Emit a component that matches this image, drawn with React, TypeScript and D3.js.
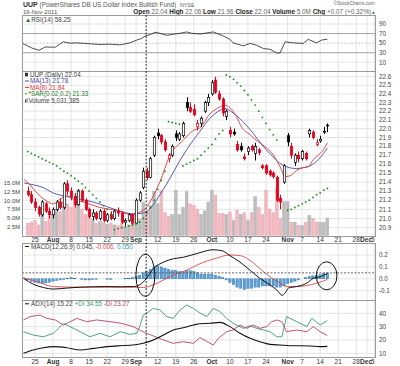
import React from "react";
import * as d3 from "d3";

const W = 400;
const H = 366;
const FONT = "'Liberation Sans', Arial, Helvetica, sans-serif";
const PL = 22;
const PR = 375;

// trading days shown on the chart, Labor Day skipped
const days = d3.timeDay
  .range(new Date(2011, 6, 21), new Date(2011, 11, 6))
  .filter((d) => d.getDay() % 6 !== 0 && +d !== +new Date(2011, 8, 5));
const fmt = d3.timeFormat("%Y-%m-%d");
const dayIndex = (s: string) => days.findIndex((d) => fmt(d) === s);

const tickDates = [
  "2011-07-25", "2011-08-01", "2011-08-08", "2011-08-15", "2011-08-22", "2011-08-29",
  "2011-09-01", "2011-09-12", "2011-09-19", "2011-09-26", "2011-10-03", "2011-10-10",
  "2011-10-17", "2011-10-24", "2011-11-01", "2011-11-07", "2011-11-14", "2011-11-21",
  "2011-11-28", "2011-12-01", "2011-12-05",
];
const tickLabels = [
  "25", "Aug", "8", "15", "22", "29", "Sep", "12", "19", "26", "Oct", "10",
  "17", "24", "Nov", "7", "14", "21", "28", "Dec", "5",
];

// daily prices Jul 21 .. Nov 16
const open = [
  21.30, 21.26, 21.18, 21.12, 21.04, 21.16, 21.08, 21.04, 21.10, 21.18, 21.12, 21.38,
  21.30, 21.24, 21.15, 21.30, 21.20, 21.10, 21.02, 21.06, 21.00, 21.08, 20.98, 21.04,
  21.00, 21.08, 21.06, 20.96, 20.98, 21.04, 20.95, 21.20, 21.34, 21.52, 21.45, 21.70,
  21.95, 21.92, 21.85, 21.66, 21.70, 21.94, 21.88, 21.92, 22.30, 22.24, 22.22, 22.02,
  22.06, 22.20, 22.30, 22.40, 22.56, 22.40, 22.34, 22.14, 21.98, 21.96, 21.82, 21.80,
  21.68, 21.74, 21.80, 21.72, 21.76, 21.58, 21.58, 21.52, 21.50, 21.45, 21.22, 21.40,
  21.92, 21.80, 21.62, 21.70, 21.66, 21.72, 21.94, 21.96, 21.82, 21.86, 21.96, 22.04,
];
const high = [
  21.35, 21.30, 21.22, 21.14, 21.20, 21.18, 21.12, 21.12, 21.20, 21.22, 21.40, 21.42,
  21.34, 21.28, 21.32, 21.32, 21.22, 21.12, 21.10, 21.08, 21.10, 21.10, 21.06, 21.08,
  21.10, 21.12, 21.08, 21.00, 21.06, 21.06, 21.22, 21.30, 21.56, 21.56, 21.68, 21.92,
  22.00, 21.94, 21.88, 21.72, 21.82, 21.98, 21.96, 22.08, 22.36, 22.30, 22.28, 22.10,
  22.14, 22.32, 22.40, 22.56, 22.60, 22.44, 22.36, 22.22, 22.02, 22.00, 21.86, 21.84,
  21.72, 21.80, 21.82, 21.84, 21.78, 21.60, 21.60, 21.54, 21.52, 21.47, 21.26, 21.60,
  21.95, 21.84, 21.72, 21.74, 21.76, 21.74, 22.00, 21.98, 21.88, 21.92, 22.02, 22.06,
];
const low = [
  21.24, 21.16, 21.08, 21.02, 21.02, 21.06, 21.00, 21.00, 21.08, 21.10, 21.10, 21.26,
  21.20, 21.12, 21.14, 21.18, 21.08, 21.00, 20.98, 20.98, 20.98, 20.96, 20.96, 20.98,
  20.98, 21.02, 20.94, 20.92, 20.96, 20.92, 20.94, 21.18, 21.32, 21.42, 21.44, 21.68,
  21.88, 21.82, 21.74, 21.62, 21.68, 21.86, 21.86, 21.90, 22.20, 22.18, 22.14, 21.98,
  22.02, 22.18, 22.26, 22.38, 22.40, 22.32, 22.14, 22.10, 21.90, 21.92, 21.74, 21.74,
  21.64, 21.70, 21.74, 21.64, 21.70, 21.54, 21.48, 21.46, 21.44, 21.18, 21.10, 21.38,
  21.80, 21.66, 21.58, 21.62, 21.64, 21.64, 21.90, 21.88, 21.80, 21.84, 21.94, 21.96,
];
const close = [
  21.26, 21.18, 21.12, 21.05, 21.18, 21.08, 21.04, 21.10, 21.18, 21.12, 21.38, 21.30,
  21.24, 21.15, 21.30, 21.20, 21.10, 21.02, 21.06, 21.00, 21.08, 20.98, 21.04, 21.00,
  21.08, 21.06, 20.96, 20.98, 21.04, 20.95, 21.20, 21.28, 21.52, 21.45, 21.66, 21.90,
  21.92, 21.85, 21.76, 21.70, 21.80, 21.90, 21.94, 22.06, 22.24, 22.20, 22.16, 22.06,
  22.12, 22.30, 22.36, 22.53, 22.42, 22.34, 22.18, 22.20, 21.94, 21.94, 21.76, 21.76,
  21.66, 21.78, 21.76, 21.80, 21.73, 21.56, 21.50, 21.48, 21.46, 21.20, 21.18, 21.58,
  21.85, 21.70, 21.70, 21.66, 21.74, 21.66, 21.98, 21.90, 21.84, 21.88, 21.97, 22.04,
];
// millions of shares
const volume = [
  3.5, 3.8, 4.2, 3.0, 6.5, 4.0, 5.5, 6.0, 7.5, 6.8, 9.5, 9.0,
  8.0, 10.0, 13.0, 7.5, 6.0, 5.5, 4.5, 3.5, 4.0, 3.8, 3.2, 3.5,
  3.0, 2.8, 3.5, 2.5, 3.0, 3.5, 6.5, 4.5, 9.5, 7.0, 8.5, 12.5,
  9.0, 12.8, 6.5, 5.5, 6.0, 12.8, 6.0, 8.0, 12.5, 9.0, 8.5, 7.5,
  6.0, 7.0, 9.5, 12.9, 11.5, 6.3, 6.3, 6.0, 6.7, 4.3, 7.2, 6.0,
  6.5, 4.3, 6.5, 11.0, 8.0, 6.0, 12.9, 7.5, 6.5, 13.4, 4.9, 9.6,
  9.6, 3.8, 3.8, 2.9, 2.9, 3.8, 5.7, 4.8, 3.8, 3.8, 3.8, 5.0,
];

// indicator lines, [trading day, value]
const ma13 = [
  [-1, 21.39], [1.5, 21.37], [4.2, 21.34], [7, 21.28], [10.8, 21.24], [14.5, 21.21],
  [18.1, 21.18], [21.9, 21.13], [25.6, 21.08], [29.2, 21.05], [32, 21.06], [34.8, 21.15],
  [36.6, 21.26], [38.5, 21.38], [41.3, 21.58], [44, 21.76], [47.7, 21.97], [50.5, 22.12],
  [53.3, 22.21], [54.6, 22.23], [56.9, 22.18], [59.6, 22.08], [62.4, 21.95], [65.2, 21.8],
  [67.5, 21.7], [69.8, 21.61], [71.7, 21.57], [74.5, 21.55], [76.3, 21.56], [78.2, 21.58],
  [80.5, 21.65], [83, 21.78],
];
const ma8 = [
  [-1, 21.43], [0.6, 21.37], [2.5, 21.28], [5.3, 21.19], [7.1, 21.16], [8.9, 21.21],
  [10.8, 21.25], [12.6, 21.21], [15.4, 21.18], [20, 21.12], [22.8, 21.1], [24.6, 21.09],
  [27.4, 21.05], [29.2, 21.04], [31.1, 21.07], [32.9, 21.12], [34.8, 21.25], [36.6, 21.4],
  [39.4, 21.7], [43.1, 21.87], [45.9, 21.98], [47.7, 22.01], [50.5, 22.17], [53.3, 22.25],
  [54.6, 22.27], [56, 22.24], [57.8, 22.14], [59.2, 22.02], [61.6, 21.93], [63.9, 21.85],
  [66.2, 21.78], [68.1, 21.7], [69.9, 21.57], [71.3, 21.46], [72.7, 21.47], [74.5, 21.53],
  [76.3, 21.56], [77.7, 21.57], [79.1, 21.65], [80.5, 21.7], [81.9, 21.76], [83, 21.84],
];
const sar = [
  [0, 21.74], [1, 21.72], [2, 21.7], [3, 21.68], [4, 21.66], [5, 21.64], [6, 21.62],
  [7, 21.6], [8, 21.58], [9, 21.55], [10, 21.52], [11, 21.5], [12, 21.47], [13, 21.44],
  [14, 21.41], [15, 21.38], [16, 21.34], [17, 21.3], [18, 21.26], [19, 21.22], [20, 21.18],
  [21, 21.14], [22, 21.1], [23, 21.05],
  [24, 20.88], [25, 20.89], [26, 20.9], [27, 20.91], [28, 20.92], [29, 20.93], [30, 20.94],
  [31, 20.96], [32, 21.0], [33, 21.06], [34, 21.12], [35, 21.2], [36, 21.32], [37, 21.42],
  [38, 21.52],
  [39, 22.08], [40, 22.07], [41, 22.06], [42, 22.05],
  [43, 21.58], [44, 21.6], [45, 21.62], [46, 21.64], [47, 21.66], [48, 21.7], [49, 21.74],
  [50, 21.78], [51, 21.82], [52, 21.88], [53, 21.94], [54, 21.98],
  [55, 22.62], [56, 22.6], [57, 22.57], [58, 22.53], [59, 22.49], [60, 22.44], [61, 22.39],
  [62, 22.33], [63, 22.27], [64, 22.2], [65, 22.13], [66, 22.06], [67, 21.99], [68, 21.93],
  [69, 21.87],
  [72, 21.09], [73, 21.1], [74, 21.12], [75, 21.14], [76, 21.16], [77, 21.18], [78, 21.2],
  [79, 21.23], [80, 21.26], [81, 21.28], [82, 21.31], [83, 21.33],
];
const rsi = [
  [-1.4, 49.4], [1.1, 40], [3.1, 35.1], [4.8, 42], [7.6, 41.5], [9.8, 52.8], [11.7, 50],
  [13.6, 50.6], [16.7, 49], [20, 47.2], [22.8, 47.9], [25.6, 46.4], [28.3, 50.6],
  [30.2, 56.4], [31.6, 60], [32.5, 64.9], [33.9, 67.7], [35.3, 72.8], [36.6, 70.6],
  [38.5, 66.4], [40.3, 68.5], [42.2, 70.6], [44, 73.4], [45.4, 70.6], [47.7, 69.1],
  [51.4, 73.4], [54.2, 64.9], [56, 57.9], [56.9, 50.6], [59.7, 44.3], [61.6, 49.4],
  [63.4, 45.7], [65.3, 38.7], [67.1, 37.2], [69, 29.4], [69.9, 29.4], [71.3, 52.8],
  [73.6, 50.6], [76.3, 49.4], [77.7, 57.9], [80, 50.6], [81.4, 56.4], [83, 58.25],
];
const macd = [
  [-1.2, 0.004], [1.5, -0.045], [4.3, -0.073], [7.1, -0.086], [10.8, -0.078], [14.5, -0.07],
  [18.2, -0.067], [21.9, -0.065], [25.6, -0.067], [29.2, -0.065], [31, -0.051], [32.9, 0.004],
  [34.8, 0.086], [37.6, 0.14], [40.3, 0.168], [43.1, 0.181], [47.7, 0.22], [51.3, 0.244],
  [53.8, 0.236], [56, 0.195], [58.8, 0.14], [61.6, 0.072], [64.3, 0.004], [67.1, -0.051],
  [69.4, -0.106], [70.4, -0.139], [71.3, -0.119], [72.2, -0.078], [74.5, -0.065],
  [77.3, -0.037], [79.1, 0.004], [81, 0.017], [83, 0.045],
];
const signal = [
  [-1.2, 0.009], [2.5, -0.024], [7.1, -0.065], [14.5, -0.071], [22.8, -0.071], [29.2, -0.071],
  [32, -0.073], [34.8, -0.051], [37.6, -0.01], [40.3, 0.031], [44, 0.072], [47.7, 0.127],
  [51.9, 0.17], [56, 0.2], [58.8, 0.195], [61.6, 0.154], [64.3, 0.086], [67.1, 0.017],
  [69.9, -0.037], [71.7, -0.065], [74.5, -0.065], [77.3, -0.057], [80, -0.037], [83, -0.006],
];
const hist = [
  -0.01, -0.02, -0.03, -0.035, -0.04, -0.035, -0.03, -0.02, -0.015, -0.01, -0.005, 0.005,
  0.01, 0.005, 0, -0.005, -0.01, -0.01, -0.005, -0.005, 0, 0, -0.005, -0.005,
  0, 0, 0, 0.005, 0.005, 0.01, 0.02, 0.03, 0.05, 0.06, 0.08, 0.1, 0.11, 0.1,
  0.09, 0.08, 0.07, 0.07, 0.06, 0.06, 0.07, 0.07, 0.06, 0.05, 0.04, 0.04, 0.04,
  0.04, 0.03, 0.02, 0.01, -0.01, -0.03, -0.05, -0.07, -0.08, -0.09, -0.08, -0.08,
  -0.07, -0.07, -0.06, -0.06, -0.06, -0.06, -0.07, -0.07, -0.06, -0.04, -0.03, -0.02,
  -0.01, 0, 0.01, 0.02, 0.025, 0.03, 0.035, 0.045, 0.05,
];
const adx = [
  [-1.2, 10], [1.5, 12.5], [4.3, 14.2], [7.1, 15], [10.8, 14.2], [14.5, 12.5], [18.2, 13.7],
  [21.9, 15], [25.6, 15.7], [29.2, 16.2], [32, 17.5], [34.8, 20], [37.6, 23.7], [40.3, 27.5],
  [43.1, 29.2], [45.9, 31.2], [47.7, 32.2], [50.5, 32.5], [53.3, 33.2], [56, 30], [58.8, 25],
  [61.6, 21.2], [64.3, 18.7], [67.1, 16.7], [69.9, 16.2], [72.6, 15.7], [75.4, 15.7],
  [78.2, 15.5], [81, 15], [83, 15.22],
];
const plusDI = [
  [-1.2, 26.2], [1.5, 23.7], [4.3, 22.4], [7.1, 25], [9.9, 32.5], [11.7, 30], [14.5, 26.2],
  [17.2, 22.4], [20, 25], [22.8, 22.4], [25.6, 26.2], [28.3, 24.2], [30.2, 25], [31, 30],
  [32, 38.7], [32.9, 40], [34.8, 43.7], [36.6, 42.5], [38.5, 37.5], [40.3, 36.2], [42.2, 42.5],
  [44, 46.2], [45.9, 43.7], [47.7, 40.2], [49.6, 37.5], [51.4, 43.7], [53.3, 41.2],
  [55.1, 36.2], [56.9, 32.5], [59.7, 28.7], [61.6, 30.7], [63.4, 28.7], [65.3, 27.5],
  [67.1, 26.2], [69, 22.4], [70.4, 22.4], [71.7, 37.5], [74.5, 33.7], [77.3, 30],
  [78.7, 36.2], [81, 31.2], [83, 34.55],
];
const minusDI = [
  [-1.2, 35], [0.6, 37.5], [3.4, 38.7], [5.3, 36.2], [7.6, 35], [9.9, 31.2], [13.6, 36.2],
  [16.3, 33.7], [19.1, 35], [22.8, 33.7], [25.6, 32.7], [29.2, 30], [31, 27.5], [32.9, 25],
  [34.8, 23], [37.6, 20], [40.3, 17.5], [43.1, 18.7], [45.9, 17.5], [47.7, 21.8], [51.4, 16.2],
  [52.8, 21.2], [55.1, 26.2], [56.9, 27.5], [58.8, 31.2], [60.6, 28.7], [62.5, 31.2],
  [64.3, 28.7], [66.2, 30], [67.6, 33.7], [69, 35], [70.4, 33.7], [71.7, 26.2], [74.5, 27.5],
  [77.3, 26.2], [79.1, 30], [81, 26.2], [83, 23.27],
];

const priceTicks = d3.range(209, 227).map((v) => v / 10);
const rsiTicks = [90, 70, 50, 30, 10];
const volTicks = [2.5, 5, 7.5, 10, 12.5, 15];
const macdTicks = [0.2, 0.1, 0, -0.1];
const adxTicks = [40, 30, 20, 10];

// panels
const rsiP = { top: 15, bottom: 71 };
const priP = { top: 71, bottom: 236 };
const macdP = { top: 243, bottom: 300 };
const adxP = { top: 300, bottom: 357 };

const x = d3.scaleLinear().domain([-1.6, 96.2]).range([PL, PR]);
const yRsi = d3.scaleLinear().domain([0, 100]).range([67.1, 19.2]);
const yPrice = d3.scaleLog().domain([20.9, 22.6]).range([227.7, 76.7]);
const yVol = d3.scaleLinear().domain([0, 15]).range([235.5, 182.7]);
const yMacd = d3.scaleLinear().domain([-0.1, 0.2]).range([290.7, 255]);
const yAdx = d3.scaleLinear().domain([10, 40]).range([353.3, 313.3]);

const tickX = tickDates.map((s) => x(dayIndex(s)));

const RED = "#e2001a";
const GRID = "#e4e4e4";
const BORDER = "#9a9a9a";
const TXT = "#444";

function lineOf(pts: number[][], y: (v: number) => number, curve = d3.curveLinear) {
  return d3
    .line<number[]>()
    .x((d) => x(d[0]))
    .y((d) => y(d[1]))
    .curve(curve)(pts) as string;
}

function Panel({ p, id }: { p: { top: number; bottom: number }; id: string }) {
  return (
    <g>
      <clipPath id={id}>
        <rect x={PL} y={p.top} width={PR - PL} height={p.bottom - p.top} />
      </clipPath>
      {tickX.map((tx, i) => (
        <line key={i} x1={tx} x2={tx} y1={p.top} y2={p.bottom} stroke={GRID} strokeWidth={1} />
      ))}
    </g>
  );
}

function DateAxis({ y }: { y: number }) {
  return (
    <g fontSize={6.5} fill="#333" textAnchor="middle">
      {tickLabels.map((t, i) => {
        const isMonth = isNaN(+t);
        let tx = tickX[i];
        if (t === "Dec") tx -= 1;
        if (t === "5") tx -= 1.5;
        return (
          <text key={i} x={tx} y={y} fontWeight={isMonth ? "bold" : "normal"}>
            {t}
          </text>
        );
      })}
    </g>
  );
}

function Candles() {
  const bw = 2.4;
  return (
    <g>
      {close.map((c, i) => {
        const o = open[i];
        const prev = i > 0 ? close[i - 1] : 21.3;
        const col = c >= prev ? "#000" : RED;
        const hollow = c >= o;
        const cx = Math.round(x(i)) + 0.5;
        const yt = yPrice(Math.max(o, c));
        const yb = yPrice(Math.min(o, c));
        return (
          <g key={i}>
            <line x1={cx} x2={cx} y1={yPrice(high[i])} y2={yPrice(low[i])} stroke={col} strokeWidth={1} />
            <rect
              x={cx - bw / 2}
              y={yt}
              width={bw}
              height={Math.max(0.8, yb - yt)}
              fill={hollow ? "#fff" : col}
              stroke={col}
              strokeWidth={0.7}
            />
          </g>
        );
      })}
    </g>
  );
}

function Volume() {
  const bw = 2.8;
  return (
    <g>
      {volume.map((v, i) => {
        const prev = i > 0 ? close[i - 1] : 21.3;
        const up = close[i] >= prev;
        return (
          <rect
            key={i}
            x={x(i) - bw / 2}
            y={yVol(v)}
            width={bw}
            height={yVol(0) - yVol(v)}
            fill={up ? "#bdbdbd" : "#f2b8c0"}
            stroke={up ? "#a8a8a8" : "#e8a0aa"}
            strokeWidth={0.4}
          />
        );
      })}
    </g>
  );
}

export default function App() {
  const rightLabel = (y: number, t: string, k: string | number) => (
    <text key={k} x={PR + 4} y={y + 2.2} fontSize={6.3} fill={TXT}>
      {t}
    </text>
  );
  return (
    <div style={{ position: "fixed", left: 0, top: 0 }}>
      <svg width={W} height={H} fontFamily={FONT} style={{ display: "block" }}>
        <rect width={W} height={H} fill="#fff" />

        {/* header */}
        <text x={23} y={6.6} fontSize={7} fontWeight="bold" fill="#333">
          UUP
        </text>
        <text x={39.5} y={6.6} fontSize={6.4} fill="#555">
          (PowerShares DB US Dollar Index Bullish Fund)
        </text>
        <text x={180} y={6.6} fontSize={5.3} fill="#555">
          NYSE
        </text>
        <text x={PR} y={4.6} fontSize={5} fill="#666" textAnchor="end">
          ©StockCharts.com
        </text>
        <text x={23} y={14.2} fontSize={6} fill="#555">
          16-Nov-2011
        </text>
        <text x={PR - 4} y={14.2} fontSize={6.4} fill="#666" textAnchor="end">
          <tspan fontWeight="bold" fill="#222">Open</tspan> 22.04{" "}
          <tspan fontWeight="bold" fill="#222">High</tspan> 22.06{" "}
          <tspan fontWeight="bold" fill="#222">Low</tspan> 21.96{" "}
          <tspan fontWeight="bold" fill="#222">Close</tspan> 22.04{" "}
          <tspan fontWeight="bold" fill="#222">Volume</tspan> 5.0M{" "}
          <tspan fontWeight="bold" fill="#222">Chg</tspan> +0.07 (+0.32%)
        </text>
        <path d={`M${PR - 3},13.8 l1.5,-2.5 l1.5,2.5 z`} fill="#2a8a2a" />

        {/* RSI panel */}
        <Panel p={rsiP} id="clipRsi" />
        {rsiTicks.map((t) => (
          <line
            key={t}
            x1={PL}
            x2={PR}
            y1={yRsi(t)}
            y2={yRsi(t)}
            stroke={t === 70 || t === 30 ? "#a0a0a0" : t === 50 ? "#c8c8c8" : GRID}
            strokeDasharray={t === 50 ? "2,1.5" : undefined}
          />
        ))}
        <path d={lineOf(rsi, yRsi)} fill="none" stroke="#222" strokeWidth={0.8} clipPath="url(#clipRsi)" />
        <text x={25} y={21.5} fontSize={6.3} fill={TXT}>
          <tspan fill="#2a6a2a">▲</tspan>RSI(14) 58.25
        </text>
        {rsiTicks.map((t) => rightLabel(yRsi(t), String(t), "r" + t))}

        {/* price panel */}
        <Panel p={priP} id="clipPri" />
        {priceTicks.map((t) => (
          <line key={t} x1={PL} x2={PR} y1={yPrice(t)} y2={yPrice(t)} stroke={GRID} />
        ))}
        <g clipPath="url(#clipPri)">
          <Volume />
          <path d={lineOf(ma13, yPrice, d3.curveMonotoneX)} fill="none" stroke="#4848a8" strokeWidth={0.9} />
          <path d={lineOf(ma8, yPrice, d3.curveMonotoneX)} fill="none" stroke="#e03838" strokeWidth={0.9} />
          <Candles />
          {sar.map((d, i) => (
            <circle key={i} cx={x(d[0])} cy={yPrice(d[1])} r={0.9} fill="#1a8a1a" />
          ))}
        </g>
        {priceTicks.map((t) => rightLabel(yPrice(t), t.toFixed(1), "p" + t))}
        {volTicks.map((t) => (
          <text key={t} x={PL - 2} y={yVol(t) + 2.2} fontSize={5.8} fill={TXT} textAnchor="end">
            {t.toFixed(1)}M
          </text>
        ))}
        <g fontSize={6.3}>
          <rect x={25} y={72.8} width={3} height={3.5} fill="#333" />
          <text x={30} y={77} fill={TXT}>UUP (Daily) 22.04</text>
          <line x1={25} x2={29} y1={81} y2={81} stroke="#4848a8" strokeWidth={1} />
          <text x={30} y={83.4} fill="#4848a8">MA(13) 21.78</text>
          <line x1={25} x2={29} y1={87.4} y2={87.4} stroke="#e03838" strokeWidth={1} />
          <text x={30} y={89.8} fill="#e03838">MA(8) 21.84</text>
          <circle cx={26} cy={93.8} r={0.8} fill="#1a8a1a" />
          <text x={28.5} y={96.2} fill="#2a7a2a">*SAR(0.02,0.2) 21.33</text>
          <rect x={25} y={99.4} width={1} height={3} fill="#555" />
          <rect x={26.5} y={98.4} width={1} height={4} fill="#555" />
          <text x={28.5} y={102.6} fill={TXT}>Volume 5,031,385</text>
        </g>

        <DateAxis y={241.5} />

        {/* MACD panel */}
        <Panel p={macdP} id="clipMacd" />
        {macdTicks.map((t) => (
          <line key={t} x1={PL} x2={PR} y1={yMacd(t)} y2={yMacd(t)} stroke={GRID} />
        ))}
        <g clipPath="url(#clipMacd)">
          {hist.map((h, i) => (
            <rect
              key={i}
              x={x(i) - 1.2}
              y={Math.min(yMacd(0), yMacd(h))}
              width={2.4}
              height={Math.abs(yMacd(h) - yMacd(0))}
              fill="#5aa0d8"
              stroke="#2c6ea8"
              strokeWidth={0.4}
            />
          ))}
          <path d={lineOf(signal, yMacd, d3.curveMonotoneX)} fill="none" stroke="#e04848" strokeWidth={0.9} />
          <path d={lineOf(macd, yMacd, d3.curveMonotoneX)} fill="none" stroke="#111" strokeWidth={1} />
        </g>
        <line x1={PL} x2={PR} y1={yMacd(0.05)} y2={yMacd(0.05)} stroke="#555" strokeDasharray="2,1.5" strokeWidth={0.9} />
        <g fontSize={6.3}>
          <line x1={25} x2={29} y1={246.5} y2={246.5} stroke="#111" />
          <text x={31} y={249} fill={TXT}>
            MACD(12,26,9) 0.045, <tspan fill="#e04848">-0.006,</tspan>{" "}
            <tspan fill="#3a9ab8">0.050</tspan>
          </text>
        </g>
        {macdTicks.map((t) => rightLabel(yMacd(t), t.toFixed(1), "m" + t))}

        {/* ADX panel */}
        <Panel p={adxP} id="clipAdx" />
        {adxTicks.map((t) => (
          <line key={t} x1={PL} x2={PR} y1={yAdx(t)} y2={yAdx(t)} stroke={GRID} />
        ))}
        <g clipPath="url(#clipAdx)">
          <path d={lineOf(plusDI, yAdx)} fill="none" stroke="#3a9a6a" strokeWidth={0.9} />
          <path d={lineOf(minusDI, yAdx)} fill="none" stroke="#b8406a" strokeWidth={0.9} />
          <path d={lineOf(adx, yAdx, d3.curveMonotoneX)} fill="none" stroke="#111" strokeWidth={1.1} />
        </g>
        <g fontSize={6.3}>
          <line x1={25} x2={29} y1={303.8} y2={303.8} stroke="#111" />
          <text x={31} y={306.3} fill={TXT}>
            ADX(14) 15.22 <tspan fill="#3a9a6a">+DI 34.55</tspan>{" "}
            <tspan fill="#b8406a">-DI 23.27</tspan>
          </text>
        </g>
        {adxTicks.map((t) => rightLabel(yAdx(t), String(t), "a" + t))}

        <DateAxis y={364} />

        {/* borders */}
        {[rsiP, priP, macdP, adxP].map((p, i) => (
          <rect key={i} x={PL + 0.5} y={p.top + 0.5} width={PR - PL} height={p.bottom - p.top} fill="none" stroke={BORDER} />
        ))}

        {/* annotations */}
        <line x1={x(32.8)} x2={x(32.8)} y1={rsiP.top} y2={adxP.bottom} stroke="#111" strokeWidth={0.9} strokeDasharray="2,1.5" />
        <ellipse cx={x(32.6)} cy={yMacd(0.03)} rx={9.5} ry={21} fill="none" stroke="#111" strokeWidth={1} />
        <ellipse cx={x(82.8)} cy={yMacd(0.025)} rx={10.3} ry={14} fill="none" stroke="#111" strokeWidth={1} />
      </svg>
    </div>
  );
}
